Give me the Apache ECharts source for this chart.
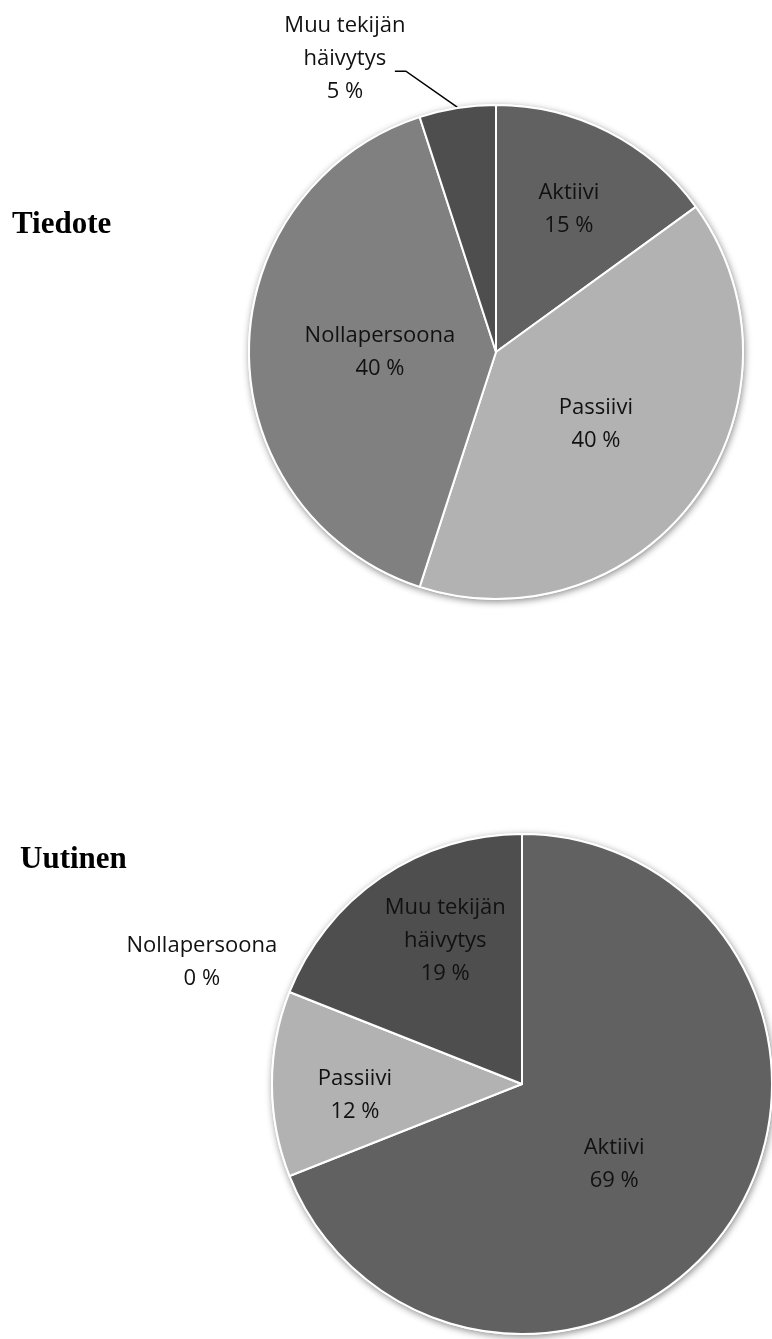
<!DOCTYPE html>
<html><head><meta charset="utf-8">
<script src="https://cdn.jsdelivr.net/npm/echarts@6/dist/echarts.min.js"></script>
<style>html,body{margin:0;padding:0;background:#fff}#c{width:772px;height:1339px}</style>
</head><body><div id="c"></div>
<script>
// ---- data ----
const categories = ['Aktiivi', 'Passiivi', 'Nollapersoona', 'Muu tekijän häivytys'];
const tiedoteValues = [15, 40, 40, 5];
const uutinenValues = [69, 12, 0, 19];
const chartTitles = ['Tiedote', 'Uutinen'];

// ---- styles / layout ----
const sliceColors = ['#616161', '#b2b2b2', '#808080', '#4e4e4e'];
const pies = [
  { cx: 496, cy: 352, r: 247, values: tiedoteValues,
    // [radius factor, angle offset (deg)] for each label
    place: [[0.65, 0], [0.5, 0], [0.47, 0], [1.334, -18.3]],
    outside: [false, false, false, true], leader: [false, false, false, true] },
  { cx: 522, cy: 1084, r: 250, values: uutinenValues,
    place: [[0.49, 7], [0.67, -4], [1.37, -0.8], [0.65, 6]],
    outside: [false, false, true, false], leader: [false, false, false, false] }
];
const labelFont = { fontFamily: 'Open Sans', fontSize: 22, lineHeight: 33, color: '#111' };

function midAngle(values, i) {
  const total = values.reduce((a, b) => a + b, 0);
  let cum = 0;
  for (let k = 0; k < i; k++) cum += values[k];
  return (cum + values[i] / 2) / total * 360;
}

function makeLayout(p) {
  return function (params) {
    const i = params.dataIndex;
    const mid = midAngle(p.values, i);
    const a = (mid + p.place[i][1]) * Math.PI / 180;
    const d = p.place[i][0] * p.r;
    const x = p.cx + d * Math.sin(a), y = p.cy - d * Math.cos(a);
    const res = { x: x, y: y, align: 'center', verticalAlign: 'middle' };
    if (p.leader[i]) {
      const m = mid * Math.PI / 180, e = p.r + 1;
      res.labelLinePoints = [
        [p.cx + e * Math.sin(m), p.cy - e * Math.cos(m)],
        [x + 61, y + 12],
        [x + 50, y + 12]
      ];
    }
    return res;
  };
}

function fmt(p) {
  return p.name.replace('Muu tekijän ', 'Muu tekijän\n') + '\n' + p.value + ' %';
}

const series = [];
pies.forEach((p, si) => {
  // shadow underlay
  series.push({
    type: 'pie', silent: true, z: 1,
    center: [p.cx, p.cy], radius: p.r + 1, startAngle: 90, clockwise: true,
    label: { show: false }, labelLine: { show: false }, animation: false,
    itemStyle: { color: '#fff', borderWidth: 0, shadowBlur: 7, shadowColor: 'rgba(0,0,0,0.45)', shadowOffsetX: 1, shadowOffsetY: 2 },
    data: categories.map((c, i) => ({ name: c, value: p.values[i] }))
  });
  series.push({
    type: 'pie', z: 2,
    center: [p.cx, p.cy], radius: p.r, startAngle: 90, clockwise: true,
    avoidLabelOverlap: false, animation: false, minShowLabelAngle: 0,
    itemStyle: { borderColor: '#fff', borderWidth: 2 },
    label: Object.assign({ show: true, position: 'inside', formatter: fmt, align: 'center' }, labelFont),
    labelLine: { show: false },
    labelLayout: makeLayout(p),
    data: categories.map((c, i) => ({
      name: c, value: p.values[i],
      itemStyle: { color: sliceColors[i] },
      label: p.outside[i] ? { position: 'outside' } : undefined,
      labelLine: p.leader[i] ? { show: true, length: 10, length2: 10, lineStyle: { color: '#000', width: 1.5 } } : { show: false }
    }))
  });
});

const chart = echarts.init(document.getElementById('c'));
chart.setOption({
  backgroundColor: '#fff',
  title: [
    { text: chartTitles[0], left: 12, top: 209, padding: 0,
      textStyle: { fontFamily: 'Liberation Serif', fontWeight: 'bold', fontSize: 31, color: '#000' } },
    { text: chartTitles[1], left: 20, top: 844, padding: 0,
      textStyle: { fontFamily: 'Liberation Serif', fontWeight: 'bold', fontSize: 31, color: '#000' } }
  ],
  series: series
});
</script>
</body></html>
